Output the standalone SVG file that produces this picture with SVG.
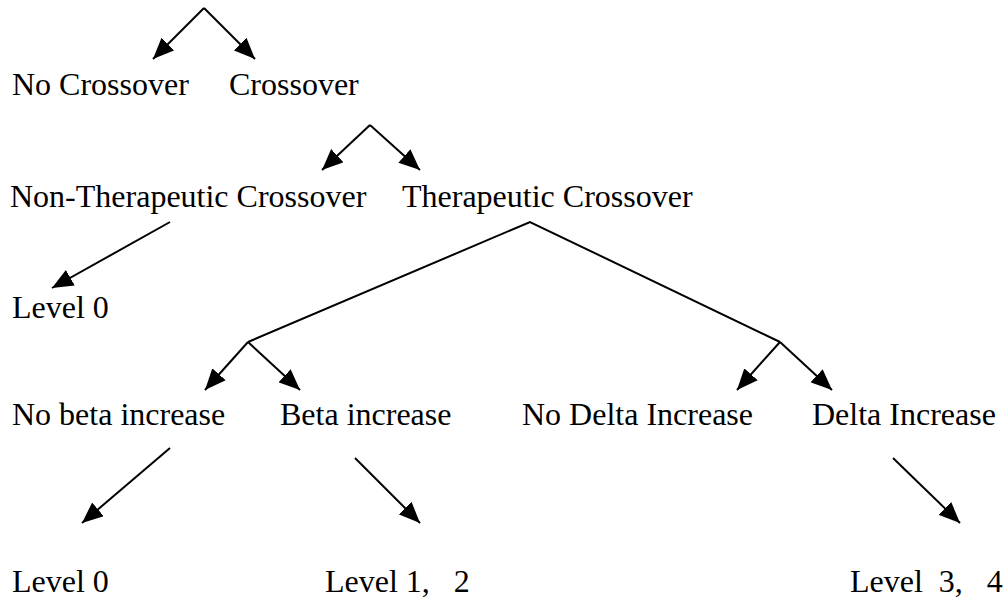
<svg xmlns="http://www.w3.org/2000/svg" width="1008" height="601" viewBox="0 0 1008 601">
<style>
text{font-family:"Liberation Serif","Times New Roman",serif;font-size:32px;fill:#000}
.c{stroke:#000;stroke-width:2;fill:none}
</style>
<defs>
<marker id="ah" markerUnits="userSpaceOnUse" markerWidth="22" markerHeight="18" refX="21" refY="9" orient="auto">
<path d="M0,0 L21,9 L0,18 z" fill="#000"/>
</marker>
</defs>
<rect width="1008" height="601" fill="#fff"/>
<g id="connectors">
<path class="c" d="M204,8 L153,59" marker-end="url(#ah)"/>
<path class="c" d="M204,8 L255,59" marker-end="url(#ah)"/>
<path class="c" d="M370,125 L322,170" marker-end="url(#ah)"/>
<path class="c" d="M370,125 L420,170" marker-end="url(#ah)"/>
<path class="c" d="M170,222 L52,288" marker-end="url(#ah)"/>
<path class="c" d="M248,342 L530,222 L780,342"/>
<path class="c" d="M248,342 L205,390" marker-end="url(#ah)"/>
<path class="c" d="M248,342 L300,390" marker-end="url(#ah)"/>
<path class="c" d="M780,342 L737,390" marker-end="url(#ah)"/>
<path class="c" d="M780,342 L832,390" marker-end="url(#ah)"/>
<path class="c" d="M170,448 L82,523" marker-end="url(#ah)"/>
<path class="c" d="M355,458 L420,523" marker-end="url(#ah)"/>
<path class="c" d="M893,458 L960,523" marker-end="url(#ah)"/>
</g>
<g id="no-crossover"><text x="12" y="95">No Crossover</text></g>
<g id="crossover"><text x="229" y="95">Crossover</text></g>
<g id="non-therapeutic"><text x="10" y="207">Non-Therapeutic Crossover</text></g>
<g id="therapeutic"><text x="402" y="207">Therapeutic Crossover</text></g>
<g id="level0-a"><text x="12" y="318">Level 0</text></g>
<g id="no-beta"><text x="12" y="425">No beta increase</text></g>
<g id="beta"><text x="280" y="425">Beta increase</text></g>
<g id="no-delta"><text x="522" y="425">No Delta Increase</text></g>
<g id="delta"><text x="812" y="425">Delta Increase</text></g>
<g id="level0-b"><text x="12" y="592">Level 0</text></g>
<g id="level12"><text x="325" y="592" xml:space="preserve">Level 1,   2</text></g>
<g id="level34"><text x="850" y="592" xml:space="preserve">Level  3,   4</text></g>
</svg>
